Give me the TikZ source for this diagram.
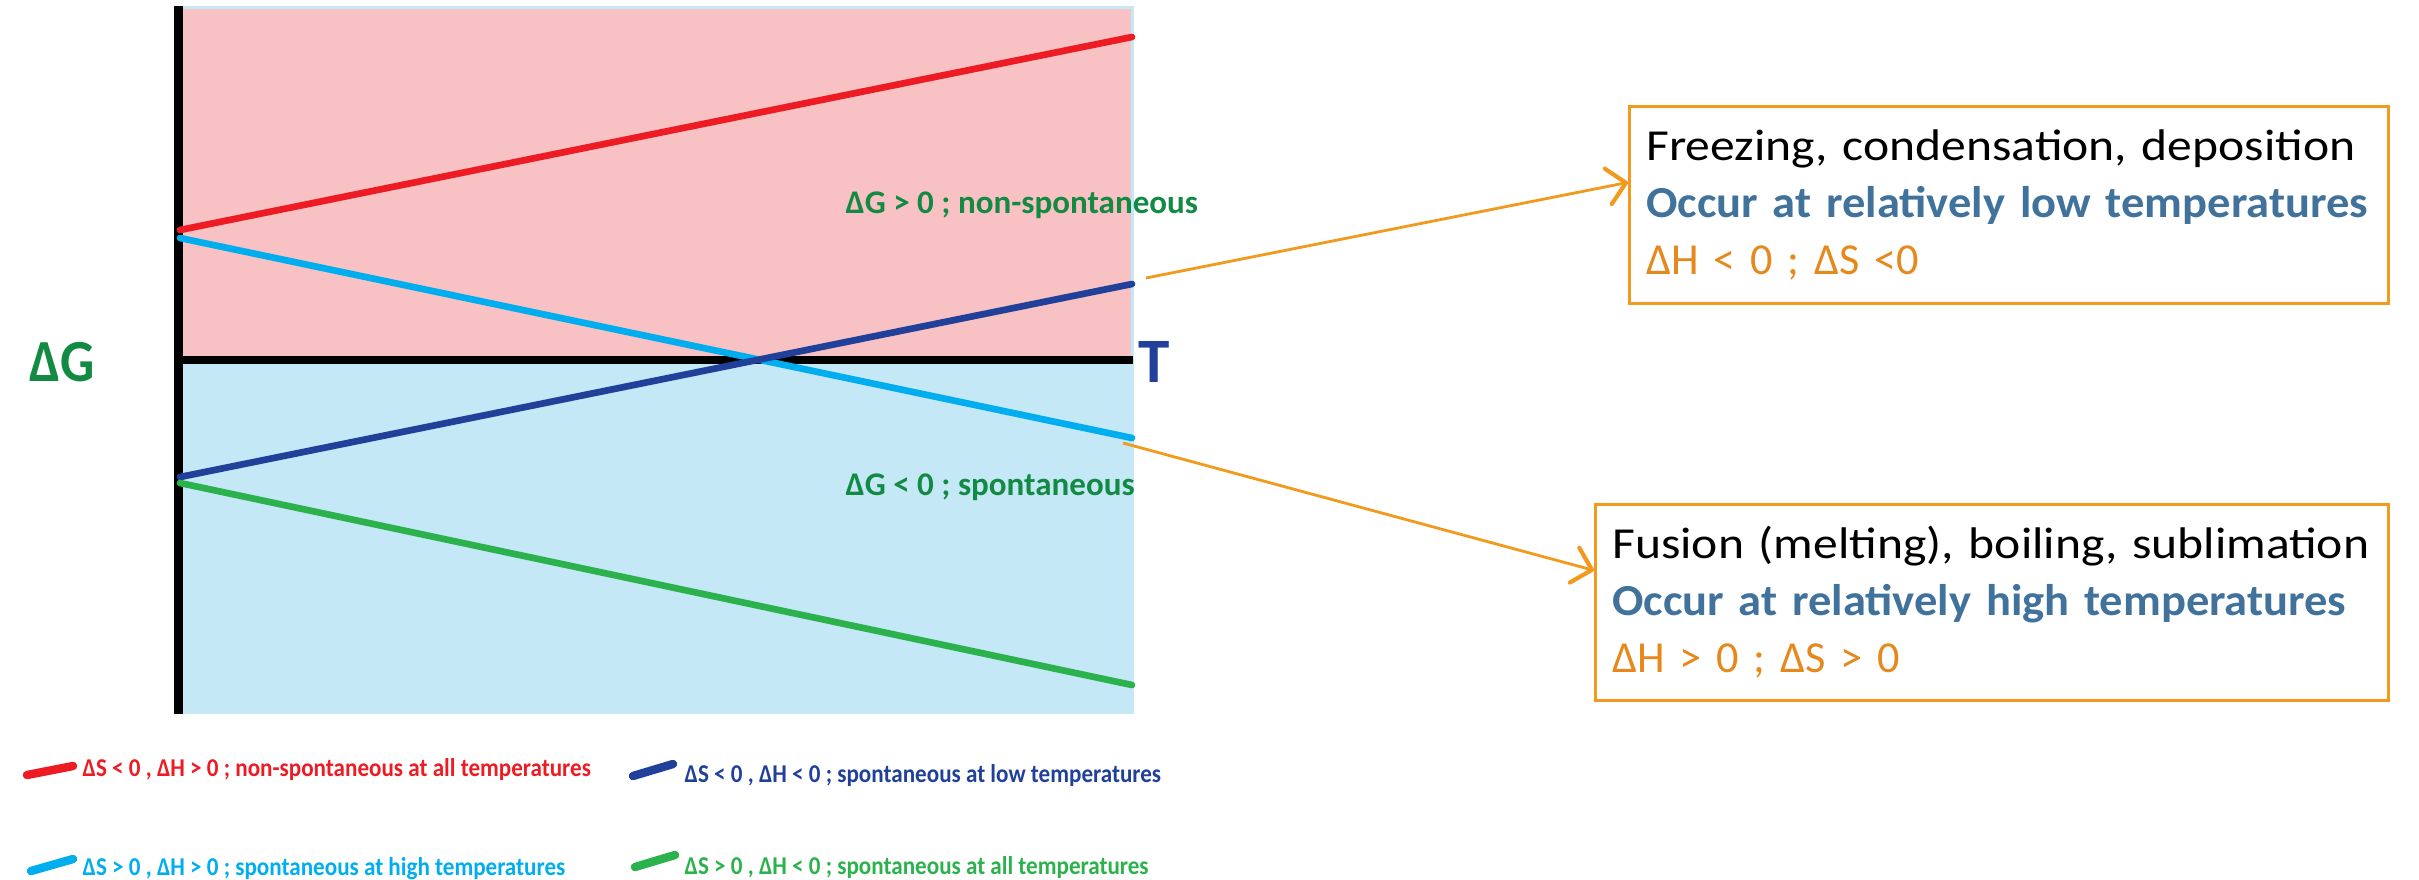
\documentclass[tikz,border=0pt]{standalone}
\usepackage{fontspec}
\setmainfont{Carlito}
\newfontfamily\keyfont[FakeStretch=0.9]{Carlito}
\newfontfamily\boxfont[FakeStretch=1.12]{Carlito}
\newfontfamily\boxbold[FakeStretch=1.05]{Carlito}
\usetikzlibrary{arrows.meta}

\definecolor{zonepink}{HTML}{F8C1C3}
\definecolor{zoneblue}{HTML}{C5E8F6}
\definecolor{curvered}{HTML}{ED1C24}
\definecolor{curvecyan}{HTML}{00AEEF}
\definecolor{curvenavy}{HTML}{21409A}
\definecolor{curvegreen}{HTML}{2BB24C}
\definecolor{labelgreen}{HTML}{138A43}
\definecolor{steel}{HTML}{41729C}
\definecolor{amber}{HTML}{F29A1E}
\definecolor{amberdark}{HTML}{E6881C}

\tikzset{
    curve/.style={line width=1.9pt, line cap=round},
    keyline/.style={line width=2.4pt, line cap=round},
    keytext/.style={anchor=base west, inner sep=0pt,
        font=\keyfont\bfseries\fontsize{7.3}{8}\selectfont},
    zonelabel/.style={anchor=base west, inner sep=0pt, text=labelgreen,
        font=\bfseries\fontsize{9.4}{11}\selectfont},
    axislabel/.style={inner sep=0pt, font=\bfseries\fontsize{18}{20}\selectfont},
    infobox/.style={draw=amber, line width=0.8pt, align=left, anchor=north west,
        inner xsep=1.7mm, inner ysep=0pt, font=\boxfont\fontsize{12.6}{16.2}\selectfont},
    pointer/.style={-{Straight Barb[length=1.8mm, width=3.6mm, line width=1.2pt, round]},
        draw=amber, line width=0.8pt}
}

\begin{document}
\begin{tikzpicture}[x=0.1mm, y=-0.1mm]
    \useasboundingbox (0,0) rectangle (2419,879);
    \fill[zoneblue] (183,6) rectangle (1134,714);
    \fill[zonepink] (183,9) rectangle (1131,358);
    \draw[line width=2.55pt] (178.5,6) -- (178.5,714);
    \draw[line width=2.3pt] (174,360) -- (1133,360);
    \coordinate (navy-end) at (1132,284);
    \coordinate (cyan-end) at (1132,438);
    \node[axislabel, text=labelgreen, font=\keyfont\bfseries\fontsize{17}{20}\selectfont]
        (dg-label) at (62,362) {ΔG};
    \node[axislabel, text=curvenavy] (t-label) at (1154,362) {T};
    \node[zonelabel] (pos-label) at (845,213) {ΔG > 0 ; non-spontaneous};
    \node[zonelabel] (neg-label) at (845,495) {ΔG < 0 ; spontaneous};
    \node[infobox, text width=72.5mm, minimum height=19.7mm] (low-box) at (1628,105)
        {Freezing, condensation, deposition\\
        \textcolor{steel}{\boxbold\bfseries Occur at relatively low temperatures}\\
        \textcolor{amberdark}{\normalfont ΔH < 0 ; ΔS <0}};
    \node[infobox, text width=75.9mm, minimum height=19.6mm] (high-box) at (1594,503)
        {Fusion (melting), boiling, sublimation\\
        \textcolor{steel}{\boxbold\bfseries Occur at relatively high temperatures}\\
        \textcolor{amberdark}{\normalfont ΔH > 0 ; ΔS > 0}};
    \draw[pointer] ([shift={(14,-6)}]navy-end) -- ([yshift=2.25mm]low-box.west);
    \draw[pointer] ([shift={(-9,5)}]cyan-end) -- ([yshift=3.2mm]high-box.west);
    \draw[curve, curvered] (180,230) -- (1132,37);
    \draw[curve, curvecyan] (180,238) -- (cyan-end);
    \draw[curve, curvenavy] (180,477) -- (navy-end);
    \draw[curve, curvegreen] (180,483) -- (1132,685);
    \draw[keyline, curvered] (27,775) -- (73,766);
    \node[keytext, text=curvered] (key-red) at (82,776)
        {ΔS < 0 , ΔH > 0 ; non-spontaneous at all temperatures};
    \draw[keyline, curvenavy] (633,776) -- (673,764);
    \node[keytext, text=curvenavy] (key-navy) at (684,782)
        {ΔS < 0 , ΔH < 0 ; spontaneous at low temperatures};
    \draw[keyline, curvecyan] (31,871) -- (73,859);
    \node[keytext, text=curvecyan] (key-cyan) at (82,875)
        {ΔS > 0 , ΔH > 0 ; spontaneous at high temperatures};
    \draw[keyline, curvegreen] (635,867) -- (675,855);
    \node[keytext, text=curvegreen] (key-green) at (684,874)
        {ΔS > 0 , ΔH < 0 ; spontaneous at all temperatures};
\end{tikzpicture}
\end{document}
